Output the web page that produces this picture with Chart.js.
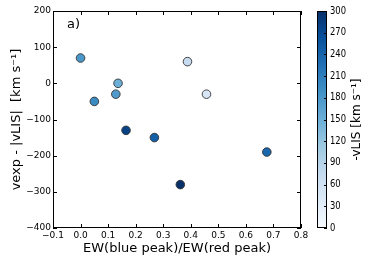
<!DOCTYPE html>
<html>
<head>
<meta charset="utf-8">
<script src="https://cdn.jsdelivr.net/npm/chart.js@4/dist/chart.umd.min.js"></script>
<style>
  html, body { margin: 0; padding: 0; background: #fff; }
  #wrap { width: 374px; height: 262px; position: relative; }
</style>
</head>
<body>
<div id="wrap"><canvas id="chart"></canvas></div>
<script>
// data
const ewRatio = [0.0, 0.05, 0.136, 0.128, 0.165, 0.268, 0.362, 0.388, 0.457, 0.676];
const vDiff   = [70, -50, 0, -30, -130, -150, -280, 60, -30, -190];
const vLIS    = [180, 195, 150, 175, 280, 245, 300, 75, 50, 235];

const xTicks = [-0.1, 0.0, 0.1, 0.2, 0.3, 0.4, 0.5, 0.6, 0.7, 0.8];
const yTicks = [-400, -300, -200, -100, 0, 100, 200];
const cbTicks = [0, 30, 60, 90, 120, 150, 180, 210, 240, 270, 300];
const cbMin = 0, cbMax = 300;

// matplotlib "Blues"
const bluesStops = ['#f7fbff', '#deebf7', '#c6dbef', '#9ecae1', '#6baed6',
                    '#4292c6', '#2171b5', '#08519c', '#08306b'];

function hexToRgb(h) {
    return [parseInt(h.slice(1, 3), 16), parseInt(h.slice(3, 5), 16), parseInt(h.slice(5, 7), 16)];
}

function blues(v) {
    let t = (v - cbMin) / (cbMax - cbMin);
    t = Math.max(0, Math.min(1, t));
    const pos = t * (bluesStops.length - 1);
    const i = Math.min(Math.floor(pos), bluesStops.length - 2);
    const f = pos - i;
    const a = hexToRgb(bluesStops[i]), b = hexToRgb(bluesStops[i + 1]);
    const c = a.map((x, k) => Math.round(x + (b[k] - x) * f));
    return `rgb(${c[0]},${c[1]},${c[2]})`;
}

const minus = s => String(s).replace('-', '\u2212');
const FONT = 'DejaVu Sans';

// frame, inward ticks, colorbar and panel label
const extras = {
    id: 'extras',
    afterDraw(chart) {
        const ctx = chart.ctx;
        const a = chart.chartArea;
        const xs = chart.scales.x, ys = chart.scales.y;
        ctx.save();
        ctx.strokeStyle = '#000';
        ctx.lineWidth = 1;
        ctx.strokeRect(a.left + 0.5, a.top + 0.5, a.right - a.left - 1, a.bottom - a.top - 1);

        const tl = 4;
        ctx.beginPath();
        xTicks.forEach(v => {
            const px = Math.round(xs.getPixelForValue(v)) + 0.5;
            ctx.moveTo(px, a.bottom); ctx.lineTo(px, a.bottom - tl);
            ctx.moveTo(px, a.top); ctx.lineTo(px, a.top + tl);
        });
        yTicks.forEach(v => {
            const py = Math.round(ys.getPixelForValue(v)) + 0.5;
            ctx.moveTo(a.left, py); ctx.lineTo(a.left + tl, py);
            ctx.moveTo(a.right, py); ctx.lineTo(a.right - tl, py);
        });
        ctx.stroke();

        // panel label
        ctx.fillStyle = '#000';
        ctx.font = `13px "${FONT}"`;
        ctx.textAlign = 'left';
        ctx.textBaseline = 'middle';
        ctx.fillText('a)', 67, 25);

        // colorbar
        const cbL = 317, cbR = 327, cbT = a.top, cbB = a.bottom;
        const grad = ctx.createLinearGradient(0, cbB, 0, cbT);
        bluesStops.forEach((c, i) => grad.addColorStop(i / (bluesStops.length - 1), c));
        ctx.fillStyle = grad;
        ctx.fillRect(cbL, cbT, cbR - cbL, cbB - cbT);
        ctx.strokeStyle = '#000';
        ctx.strokeRect(cbL + 0.5, cbT + 0.5, cbR - cbL - 1, cbB - cbT - 1);

        ctx.beginPath();
        cbTicks.forEach(v => {
            const py = Math.round(cbB - (v - cbMin) / (cbMax - cbMin) * (cbB - cbT)) + 0.5;
            ctx.moveTo(cbR, py); ctx.lineTo(cbR - 3, py);
        });
        ctx.stroke();

        ctx.fillStyle = '#000';
        ctx.font = `10px "${FONT}"`;
        ctx.textAlign = 'left';
        ctx.textBaseline = 'middle';
        cbTicks.forEach(v => {
            const py = cbB - (v - cbMin) / (cbMax - cbMin) * (cbB - cbT);
            ctx.save();
            ctx.translate(330, py);
            ctx.scale(0.84, 1);
            ctx.fillText(String(v), 0, 0);
            ctx.restore();
        });

        ctx.save();
        ctx.translate(357, (cbT + cbB) / 2);
        ctx.rotate(-Math.PI / 2);
        ctx.textAlign = 'center';
        ctx.textBaseline = 'middle';
        ctx.font = `12px "${FONT}"`;
        ctx.fillText('-vLIS [km s\u207B\u00B9]', 0, 0);
        ctx.restore();

        ctx.restore();
    }
};

const points = ewRatio.map((x, i) => ({ x: x, y: vDiff[i] }));

new Chart(document.getElementById('chart'), {
    type: 'scatter',
    data: {
        datasets: [{
            data: points,
            pointRadius: 4.3,
            pointHoverRadius: 4.3,
            pointBackgroundColor: vLIS.map(blues),
            pointBorderColor: '#333',
            pointBorderWidth: 0.9
        }]
    },
    options: {
        responsive: true,
        maintainAspectRatio: false,
        animation: false,
        layout: { padding: { left: 0, right: 73, top: 11, bottom: 0 } },
        plugins: {
            legend: { display: false },
            tooltip: { enabled: false }
        },
        scales: {
            x: {
                type: 'linear',
                min: -0.1,
                max: 0.8,
                afterFit: s => { s.height = 34; },
                afterBuildTicks: s => { s.ticks = xTicks.map(v => ({ value: v })); },
                grid: { display: false, drawTicks: false },
                border: { display: false },
                ticks: {
                    autoSkip: false,
                    maxRotation: 0,
                    padding: 2,
                    color: '#000',
                    font: { family: FONT, size: 9 },
                    callback: v => minus(Number(v).toFixed(1))
                },
                title: {
                    display: true,
                    text: 'EW(blue peak)/EW(red peak)',
                    color: '#000',
                    font: { family: FONT, size: 13 },
                    padding: { top: 0, bottom: 6 }
                }
            },
            y: {
                type: 'linear',
                min: -400,
                max: 200,
                afterFit: s => { s.width = 53; },
                afterBuildTicks: s => { s.ticks = yTicks.map(v => ({ value: v })); },
                grid: { display: false, drawTicks: false },
                border: { display: false },
                ticks: {
                    autoSkip: false,
                    padding: 2,
                    color: '#000',
                    font: { family: FONT, size: 9 },
                    callback: v => minus(v)
                },
                title: {
                    display: true,
                    text: 'vexp - |vLIS|  [km s\u207B\u00B9]',
                    color: '#000',
                    font: { family: FONT, size: 13 },
                    padding: { top: 9, bottom: 0 }
                }
            }
        }
    },
    plugins: [extras]
});
</script>
</body>
</html>
